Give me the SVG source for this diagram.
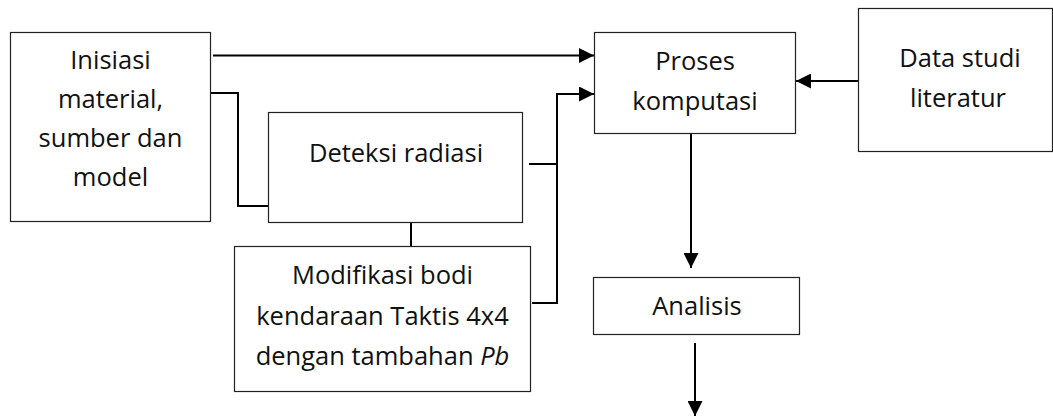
<svg xmlns="http://www.w3.org/2000/svg" width="1053" height="416" viewBox="0 0 1053 416">
<style>
.box{fill:#fff;stroke:#222;stroke-width:1.2}
.t{font-family:"Open Sans","Liberation Sans",sans-serif;font-size:25.5px;fill:#111;text-anchor:middle}
.c{fill:none;stroke:#000;stroke-width:2}
</style>
<defs>
<marker id="ah" markerUnits="userSpaceOnUse" markerWidth="15" markerHeight="15" refX="15" refY="7.5" orient="auto">
<path d="M0,0 L15,7.5 L0,15 z" fill="#000"/>
</marker>
</defs>
<g id="connectors">
<path class="c" d="M213,55.5 H594" marker-end="url(#ah)"/>
<path class="c" d="M211,93 H238 V206 H268"/>
<path class="c" d="M529,164 H557"/>
<path class="c" d="M532,303 H557 V94 H594" marker-end="url(#ah)"/>
<path class="c" d="M411,223 V246"/>
<path class="c" d="M858,81 H796" marker-end="url(#ah)"/>
<path class="c" d="M691,134 V268" marker-end="url(#ah)"/>
<path class="c" d="M695,343 V416" marker-end="url(#ah)"/>
</g>
<g id="inisiasi">
<rect class="box" x="10.5" y="32.5" width="200" height="189"/>
<text class="t" x="110.5" y="69">Inisiasi</text>
<text class="t" x="110.5" y="108">material,</text>
<text class="t" x="110.5" y="147">sumber dan</text>
<text class="t" x="110.5" y="186">model</text>
</g>
<g id="deteksi">
<rect class="box" x="268.5" y="112.5" width="254" height="110"/>
<text class="t" x="396" y="162">Deteksi radiasi</text>
</g>
<g id="modifikasi">
<rect class="box" x="234.5" y="246.5" width="296" height="145"/>
<text class="t" x="382.5" y="284">Modifikasi bodi</text>
<text class="t" x="382.5" y="325">kendaraan Taktis 4x4</text>
<text class="t" x="382.5" y="365">dengan tambahan <tspan font-style="italic">Pb</tspan></text>
</g>
<g id="proses">
<rect class="box" x="594.5" y="32.5" width="201" height="101"/>
<text class="t" x="695" y="70">Proses</text>
<text class="t" x="695" y="110">komputasi</text>
</g>
<g id="data">
<rect class="box" x="858.5" y="8.5" width="194" height="143"/>
<text class="t" x="960" y="67">Data studi</text>
<text class="t" x="958" y="107">literatur</text>
</g>
<g id="analisis">
<rect class="box" x="593.5" y="277.5" width="206" height="57"/>
<text class="t" x="697" y="315">Analisis</text>
</g>
</svg>
